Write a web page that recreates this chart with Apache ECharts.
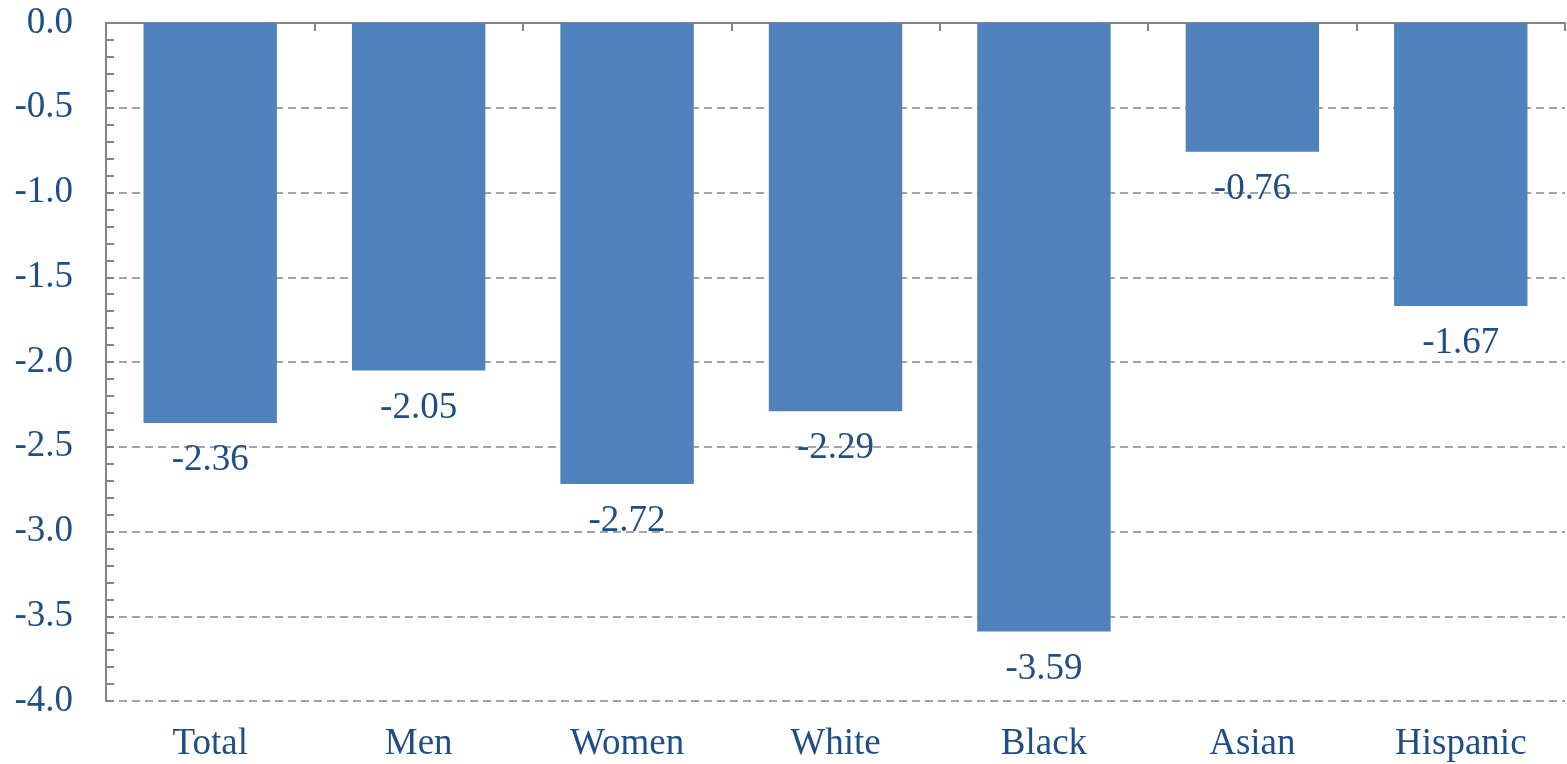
<!DOCTYPE html>
<html>
<head>
<meta charset="utf-8">
<script src="https://cdn.jsdelivr.net/npm/echarts@6/dist/echarts.min.js"></script>
<style>
  html, body { margin: 0; padding: 0; background: #fff; }
  #chart { width: 1567px; height: 764px; }
</style>
</head>
<body>
<div id="chart"></div>
<script>
// Groups shown along the category axis
const categories = ['Total', 'Men', 'Women', 'White', 'Black', 'Asian', 'Hispanic'];
// Change for each group
const values = [-2.36, -2.05, -2.72, -2.29, -3.59, -0.76, -1.67];
// Value axis range and step
const yMin = -4;
const yMax = 0;
const yStep = 0.5;

const textColor = '#1f4e87';
const axisGray = '#858585';
const fontFamily = '"Liberation Serif", "Times New Roman", serif';

const chart = echarts.init(document.getElementById('chart'), null, { renderer: 'canvas' });

chart.setOption({
  animation: false,
  backgroundColor: '#ffffff',
  grid: { left: 106, right: 2, top: 23, bottom: 63, containLabel: false },
  xAxis: [
    {
      type: 'category',
      data: categories,
      position: 'top',
      axisLine: { show: true, onZero: false, lineStyle: { color: axisGray, width: 2 } },
      axisTick: { show: true, inside: true, length: 8, alignWithLabel: false, lineStyle: { color: axisGray, width: 2 } },
      axisLabel: { show: false },
      splitLine: { show: false }
    },
    {
      type: 'category',
      data: categories,
      position: 'bottom',
      axisLine: { show: false },
      axisTick: { show: false },
      axisLabel: { show: true, color: textColor, fontFamily: fontFamily, fontSize: 37, margin: 25 },
      splitLine: { show: false }
    }
  ],
  yAxis: {
    type: 'value',
    min: yMin,
    max: yMax,
    interval: yStep,
    axisLine: { show: true, lineStyle: { color: axisGray, width: 2 } },
    axisTick: { show: true, inside: true, length: 8, lineStyle: { color: axisGray, width: 2 } },
    minorTick: { show: true, splitNumber: 5, length: 8, lineStyle: { color: axisGray, width: 2 } },
    axisLabel: {
      color: textColor,
      fontFamily: fontFamily,
      fontSize: 37,
      margin: 33,
      formatter: v => v.toFixed(1)
    },
    splitLine: { show: true, lineStyle: { color: axisGray, width: 1.5, type: [8, 5] } }
  },
  series: [
    {
      type: 'bar',
      xAxisIndex: 0,
      data: values,
      barWidth: '64%',
      itemStyle: { color: '#4f81bd' },
      label: {
        show: true,
        position: 'bottom',
        distance: 19,
        color: textColor,
        fontFamily: fontFamily,
        fontSize: 37,
        formatter: p => p.value.toFixed(2)
      }
    }
  ]
});
</script>
</body>
</html>
